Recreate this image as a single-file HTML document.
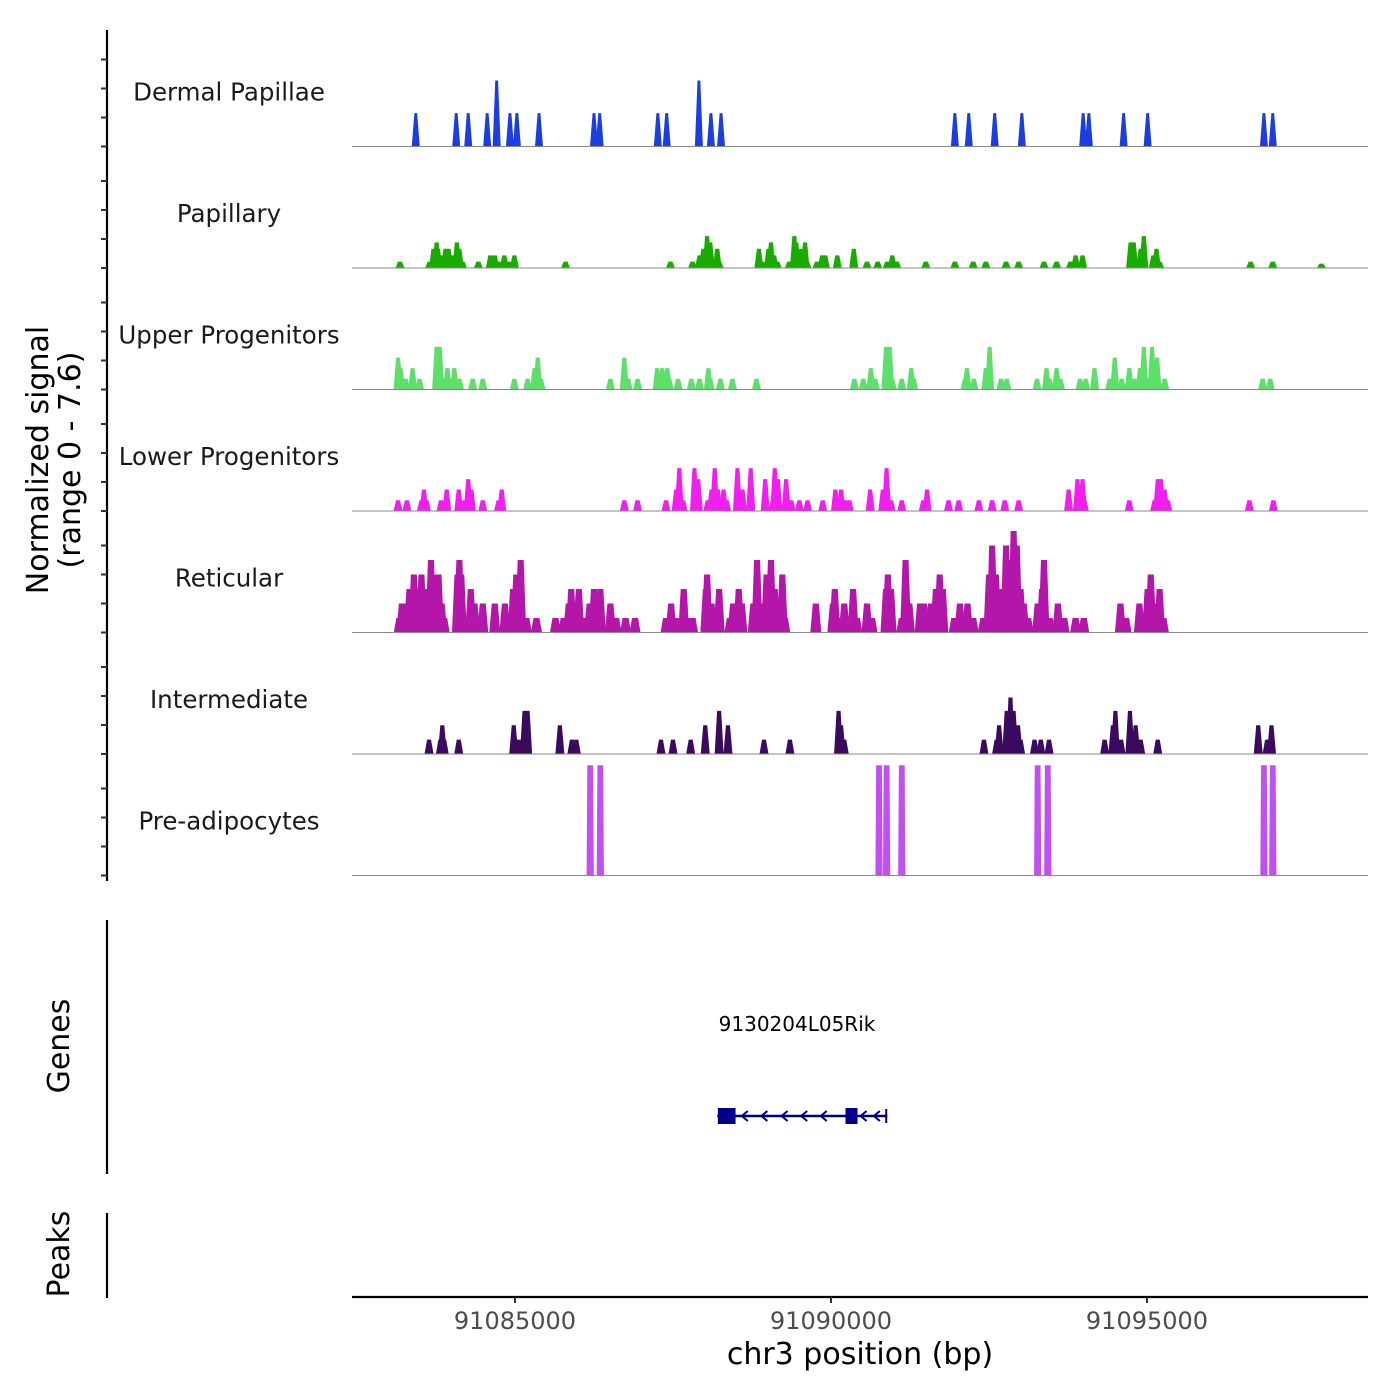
<!DOCTYPE html>
<html><head><meta charset="utf-8"><style>
html,body{margin:0;padding:0;background:#fff}
svg{display:block}
text{font-family:"DejaVu Sans","Liberation Sans",sans-serif}
</style></head><body>
<svg id="chart" width="1400" height="1400" viewBox="0 0 1400 1400" xmlns="http://www.w3.org/2000/svg">
<g id="tracks"></g>
<line x1="107" y1="30" x2="107" y2="881" stroke="#000" stroke-width="2.2"/>
<g id="yticks"></g>
<text transform="translate(53,460) rotate(-90)" text-anchor="middle" font-size="30"><tspan x="0" dy="-5">Normalized signal</tspan><tspan x="0" dy="32">(range 0 - 7.6)</tspan></text>
<line x1="107" y1="920" x2="107" y2="1174" stroke="#000" stroke-width="2.2"/>
<text transform="translate(69,1046) rotate(-90)" text-anchor="middle" font-size="30">Genes</text>
<text x="797" y="1031" text-anchor="middle" font-size="20">9130204L05Rik</text>
<g id="gene"></g>
<line x1="107" y1="1213" x2="107" y2="1298" stroke="#000" stroke-width="2.2"/>
<text transform="translate(69,1254) rotate(-90)" text-anchor="middle" font-size="30">Peaks</text>
<line x1="352" y1="1297" x2="1368" y2="1297" stroke="#000" stroke-width="2.2"/>
<g id="xticks"></g>
<text x="860" y="1364" text-anchor="middle" font-size="30">chr3 position (bp)</text>
</svg>
<script>
// region offset (bp); positions below are kb from chr3:91,080,000
const regionOffset = 91080000;
const xDomain = [91082421, 91098497];
const xTicks = [91085000, 91090000, 91095000];
const trackNames = ["Dermal Papillae","Papillary","Upper Progenitors","Lower Progenitors","Reticular","Intermediate","Pre-adipocytes"];
const trackColors = ["#1c3ee0","#1aab00","#5ede6a","#f01ff0","#b516aa","#3b0a5f","#c050f2"];

const dermalPos = [3.43,4.07,4.26,4.56,4.71,4.92,5.03,5.38,6.25,6.34,7.26,7.40,7.91,8.10,8.26,11.96,12.18,12.59,13.02,13.99,14.08,14.63,15.01,16.85,16.99];
const dermalVal = [2.3,2.3,2.3,2.3,4.55,2.3,2.3,2.3,2.3,2.3,2.3,2.3,4.55,2.3,2.3,2.3,2.3,2.3,2.3,2.3,2.3,2.3,2.3,2.3,2.3];

const papPos = [3.18,3.65,3.71,3.76,3.78,3.83,3.90,3.95,4.01,4.08,4.12,4.17,4.42,4.61,4.68,4.74,4.82,4.83,4.90,4.99,5.80,7.46,7.81,7.92,7.98,8.04,8.09,8.15,8.20,8.23,8.86,8.91,9.01,9.05,9.10,9.15,9.34,9.42,9.45,9.53,9.59,9.62,9.78,9.86,9.91,10.10,10.36,10.57,10.74,10.89,10.97,11.04,11.50,11.96,12.25,12.45,12.77,12.97,13.37,13.57,13.79,13.87,13.98,14.74,14.79,14.90,14.95,15.10,15.15,15.20,16.64,16.99,17.76];
const papVal = [0.44,0.44,1.33,1.77,1.33,0.87,1.33,1.33,0.87,1.77,1.33,0.44,0.44,0.87,0.87,0.44,0.44,0.87,0.44,0.87,0.44,0.44,0.44,0.87,1.33,2.2,1.77,0.44,1.33,0.44,1.33,0.44,1.33,1.77,0.87,0.44,0.44,2.2,1.77,1.33,1.77,0.44,0.44,0.87,0.87,0.87,1.33,0.44,0.44,0.44,0.87,0.44,0.44,0.44,0.44,0.44,0.44,0.44,0.44,0.44,0.44,0.87,0.87,1.77,1.77,1.33,2.2,0.87,1.33,0.44,0.44,0.44,0.3];

const upPos = [3.15,3.19,3.27,3.38,3.49,3.76,3.81,3.86,3.93,4.00,4.04,4.12,4.33,4.49,4.99,5.20,5.31,5.36,5.41,6.51,6.73,6.79,6.94,7.25,7.33,7.41,7.44,7.58,7.79,7.92,8.06,8.09,8.25,8.44,8.82,10.37,10.51,10.63,10.70,10.87,10.93,10.97,11.12,11.27,11.31,12.12,12.15,12.26,12.45,12.51,12.69,12.78,13.26,13.41,13.46,13.57,13.63,13.94,14.03,14.17,14.41,14.49,14.60,14.72,14.80,14.89,14.95,15.01,15.08,15.16,15.28,16.83,16.95];
const upVal = [2.2,1.47,0.74,1.47,0.74,2.94,2.94,0.74,1.47,0.74,1.47,0.74,0.74,0.74,0.74,0.74,1.47,2.2,0.74,0.74,2.2,0.74,0.74,1.47,1.47,1.47,0.74,0.74,0.74,0.74,1.47,0.74,0.74,0.74,0.74,0.74,0.74,1.47,0.74,2.94,2.94,0.74,0.74,1.47,0.74,0.74,1.47,0.74,1.47,2.94,0.74,0.74,0.74,1.47,0.74,1.47,0.74,0.74,0.74,1.47,0.74,2.2,0.74,1.47,0.74,1.47,2.94,0.74,2.94,2.2,0.74,0.74,0.74];

const lowPos = [3.15,3.29,3.52,3.56,3.60,3.83,3.92,4.11,4.20,4.26,4.31,4.49,4.74,4.79,6.73,6.94,7.39,7.55,7.60,7.66,7.84,7.90,8.05,8.11,8.16,8.21,8.30,8.35,8.52,8.60,8.73,8.96,9.08,9.11,9.16,9.29,9.37,9.50,9.63,9.87,10.07,10.16,10.22,10.29,10.62,10.82,10.88,10.95,11.12,11.46,11.52,11.86,12.02,12.34,12.55,12.75,12.97,13.76,13.90,13.98,14.01,14.72,15.12,15.17,15.22,15.28,15.33,16.62,17.00];
const lowVal = [0.74,0.74,0.74,1.48,0.74,0.74,1.48,1.48,0.74,2.2,1.48,0.74,0.74,1.48,0.74,0.74,0.74,1.48,2.96,0.74,2.96,2.2,0.74,1.48,2.96,1.48,1.48,0.74,2.96,1.48,2.96,2.2,0.74,2.96,2.2,2.2,0.74,0.74,0.74,0.74,1.48,1.48,0.74,0.74,1.48,1.48,2.96,0.74,0.74,0.74,1.48,0.74,0.74,0.74,0.74,0.74,0.74,1.48,2.2,2.2,0.74,0.74,0.74,2.2,2.2,1.48,0.74,0.74,0.74];

const retPos = [3.17,3.21,3.30,3.33,3.40,3.46,3.52,3.59,3.65,3.67,3.74,3.79,3.84,3.88,4.09,4.12,4.15,4.30,4.36,4.42,4.49,4.68,4.84,4.97,5.02,5.09,5.18,5.34,5.64,5.77,5.85,5.89,5.97,6.01,6.08,6.18,6.25,6.30,6.35,6.51,6.60,6.75,6.90,7.39,7.47,7.56,7.67,7.73,7.81,8.02,8.04,8.11,8.23,8.40,8.45,8.54,8.59,8.77,8.83,8.90,8.98,9.05,9.11,9.23,9.27,9.76,10.03,10.06,10.16,10.21,10.35,10.41,10.57,10.65,10.87,10.90,10.95,11.12,11.18,11.24,11.41,11.47,11.58,11.66,11.72,11.77,11.95,12.04,12.16,12.25,12.41,12.50,12.55,12.61,12.66,12.77,12.81,12.89,12.94,13.00,13.05,13.12,13.27,13.34,13.37,13.46,13.59,13.69,13.87,14.00,14.58,14.67,14.88,15.01,15.06,15.13,15.20,15.26];
const retVal = [1,2,2,3,4,3,4,3,3,5,4,4,2,1,4,5,4,3,2,1,2,2,2,3,4,5,1,1,1,1,2,3,2,3,1,2,3,2,3,2,1,1,1,1,2,1,3,1,1,3,4,2,3,1,2,3,2,2,5,2,4,5,3,4,1,2,2,3,1,2,3,1,2,1,3,4,3,1,5,2,2,2,2,3,4,3,1,2,2,1,1,4,6,4,3,6,5,7,6,3,2,1,2,3,5,1,2,1,1,1,2,1,2,3,4,2,3,1];

const intPos = [3.64,3.82,3.85,3.88,4.11,4.98,5.06,5.15,5.20,5.71,5.90,5.97,7.31,7.50,7.78,8.01,8.23,8.37,8.94,9.35,10.12,10.16,10.21,12.42,12.62,12.66,12.78,12.84,12.89,12.96,13.00,13.22,13.32,13.45,14.33,14.46,14.50,14.59,14.73,14.82,14.90,15.17,16.76,16.90,16.97];
const intVal = [0.99,0.99,1.98,0.99,0.99,1.98,0.99,2.97,2.97,1.98,0.99,0.99,0.99,0.99,0.99,1.98,2.97,1.98,0.99,0.99,2.97,1.98,0.99,0.99,0.99,1.98,2.97,3.9,2.97,1.98,0.99,0.99,0.99,0.99,0.99,1.98,2.97,0.99,2.97,1.98,0.99,0.99,1.98,0.99,1.98];

const prePos = [6.19,6.35,10.76,10.88,11.12,13.27,13.43,16.85,16.99];
const preVal = [7.6,7.6,7.6,7.6,7.6,7.6,7.6,7.6,7.6];

const trackPos = [dermalPos,papPos,upPos,lowPos,retPos,intPos,prePos];
const trackVal = [dermalVal,papVal,upVal,lowVal,retVal,intVal,preVal];

// gene model (bp)
const geneStart = 91088200, geneEnd = 91090890;
const exonStarts = [91088210, 91090230];
const exonEnds = [91088490, 91090420];
const chevronPos = [91088620, 91088930, 91089250, 91089560, 91089870, 91090500, 91090710];

const NS = "http://www.w3.org/2000/svg";
const X0 = 352, X1 = 1368;
function xs(bp){ return X0 + (bp - xDomain[0]) / (xDomain[1] - xDomain[0]) * (X1 - X0); }
function kb2bp(k){ return regionOffset + k * 1000; }
const pxPerUnit = 14.5;
const baseline0 = 146.5, trackStep = 121.5;
function ys(v, t){ return baseline0 + t * trackStep - v * pxPerUnit; }

const tracks = document.getElementById('tracks');
const bottomHalf = [4,4.5,4.5,4.5,5.5,4.5,3.6];
const topHalf = [1.4,2,2,2,3,2,2.9];
for (let t = 0; t < trackNames.length; t++) {
  const g = document.createElementNS(NS,'g');
  
  
  const base = ys(0, t);
  const pos = trackPos[t], val = trackVal[t];
  for (let i = 0; i < pos.length; i++) {
    const cx = xs(kb2bp(pos[i]));
    const top = ys(val[i], t);
    const p = document.createElementNS(NS,'polygon');
    
    
    p.setAttribute('points', `${cx-bottomHalf[t]},${base} ${cx-topHalf[t]},${top} ${cx+topHalf[t]},${top} ${cx+bottomHalf[t]},${base}`);
    p.setAttribute('fill', trackColors[t]);
    g.appendChild(p);
  }
  const bl = document.createElementNS(NS,'line');
  
  
  bl.setAttribute('x1', X0); bl.setAttribute('x2', X1);
  bl.setAttribute('y1', base); bl.setAttribute('y2', base);
  bl.setAttribute('stroke', '#8a8a8a'); bl.setAttribute('stroke-width', '1');
  g.appendChild(bl);
  const lab = document.createElementNS(NS,'text');
  
  
  lab.setAttribute('x', 229); lab.setAttribute('y', base - 46);
  lab.setAttribute('text-anchor', 'middle'); lab.setAttribute('font-size', '24.5');
  lab.setAttribute('fill', '#1a1a1a');
  lab.textContent = trackNames[t];
  g.appendChild(lab);
  tracks.appendChild(g);
}
const ytg = document.getElementById('yticks');
const yTickVals = [0,2,4,6];
for (let t = 0; t < trackNames.length; t++) {
  for (const v of yTickVals) {
    const y = baseline0 + t*trackStep - v*pxPerUnit;
    const l = document.createElementNS(NS,'line');
    
    
    l.setAttribute('x1', 101); l.setAttribute('x2', 107);
    l.setAttribute('y1', y); l.setAttribute('y2', y);
    l.setAttribute('stroke', '#333'); l.setAttribute('stroke-width', '2');
    ytg.appendChild(l);
  }
}
const xtg = document.getElementById('xticks');
for (const v of xTicks) {
  const x = xs(v);
  const l = document.createElementNS(NS,'line');
  
  
  l.setAttribute('x1', x); l.setAttribute('x2', x);
  l.setAttribute('y1', 1297); l.setAttribute('y2', 1303);
  l.setAttribute('stroke', '#333'); l.setAttribute('stroke-width', '2');
  xtg.appendChild(l);
  const tx = document.createElementNS(NS,'text');
  
  
  tx.setAttribute('x', x); tx.setAttribute('y', 1329);
  tx.setAttribute('text-anchor', 'middle'); tx.setAttribute('font-size', '24');
  tx.setAttribute('fill', '#4d4d4d');
  tx.textContent = String(v);
  xtg.appendChild(tx);
}
const gg = document.getElementById('gene');
const gy = 1116, navy = '#00008b';
const gl = document.createElementNS(NS,'line');


gl.setAttribute('x1', xs(geneStart)); gl.setAttribute('x2', xs(geneEnd));
gl.setAttribute('y1', gy); gl.setAttribute('y2', gy);
gl.setAttribute('stroke', navy); gl.setAttribute('stroke-width', '2.5');
gg.appendChild(gl);
for (let i = 0; i < exonStarts.length; i++) {
  const r = document.createElementNS(NS,'rect');
  
  
  r.setAttribute('x', xs(exonStarts[i])); r.setAttribute('width', xs(exonEnds[i]) - xs(exonStarts[i]));
  r.setAttribute('y', gy - 8); r.setAttribute('height', 16);
  r.setAttribute('fill', navy);
  gg.appendChild(r);
}
for (const c of chevronPos) {
  const x = xs(c);
  const p = document.createElementNS(NS,'polyline');
  
  
  p.setAttribute('points', `${x+4},${gy-5} ${x-2},${gy} ${x+4},${gy+5}`);
  p.setAttribute('fill', 'none'); p.setAttribute('stroke', navy); p.setAttribute('stroke-width', '2');
  gg.appendChild(p);
}
const endTick = document.createElementNS(NS,'line');


endTick.setAttribute('x1', xs(geneEnd) - 1); endTick.setAttribute('x2', xs(geneEnd) - 1);
endTick.setAttribute('y1', gy - 7); endTick.setAttribute('y2', gy + 7);
endTick.setAttribute('stroke', navy); endTick.setAttribute('stroke-width', '2');
gg.appendChild(endTick);
</script>
</body></html>
